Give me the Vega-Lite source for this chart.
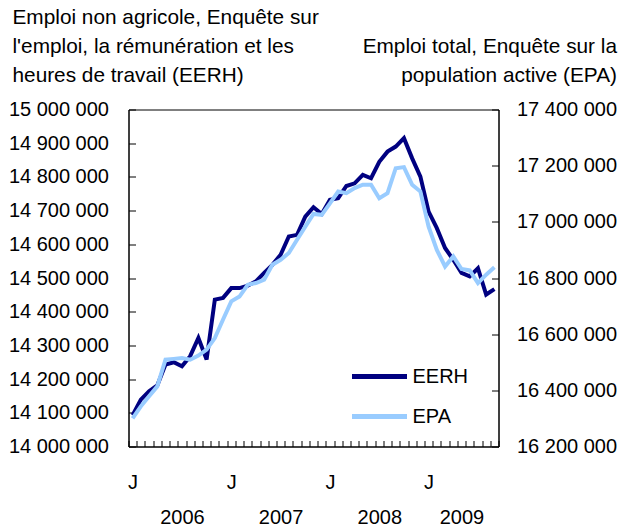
{
  "$schema": "https://vega.github.io/schema/vega-lite/v6.json",
  "width": 370,
  "height": 337,
  "autosize": {"type": "none"},
  "padding": {"left": 128.5, "top": 109.5, "right": 129.5, "bottom": 82.5},
  "config": {
    "locale": {"number": {"decimal": ",", "thousands": " ", "grouping": [3], "currency": ["", " $"]}},
    "view": {"stroke": "black", "strokeWidth": 1},
    "font": "Liberation Sans",
    "axis": {
      "labelFont": "Liberation Sans", "labelFontSize": 20, "labelColor": "black",
      "domainColor": "black", "tickColor": "black", "grid": false,
      "titleFont": "Liberation Sans", "titleFontWeight": "normal", "titleColor": "black", "titleFontSize": 20.8
    }
  },
  "data": {"values": [
    {"month": "2006-01", "eerh": 14093000, "epa": 16300000},
    {"month": "2006-02", "eerh": 14139000, "epa": 16343000},
    {"month": "2006-03", "eerh": 14164000, "epa": 16379000},
    {"month": "2006-04", "eerh": 14181000, "epa": 16414000},
    {"month": "2006-05", "eerh": 14243000, "epa": 16509000},
    {"month": "2006-06", "eerh": 14250000, "epa": 16512000},
    {"month": "2006-07", "eerh": 14238000, "epa": 16515000},
    {"month": "2006-08", "eerh": 14268000, "epa": 16509000},
    {"month": "2006-09", "eerh": 14322000, "epa": 16524000},
    {"month": "2006-10", "eerh": 14258000, "epa": 16545000},
    {"month": "2006-11", "eerh": 14436000, "epa": 16586000},
    {"month": "2006-12", "eerh": 14441000, "epa": 16652000},
    {"month": "2007-01", "eerh": 14470000, "epa": 16717000},
    {"month": "2007-02", "eerh": 14470000, "epa": 16734000},
    {"month": "2007-03", "eerh": 14477000, "epa": 16776000},
    {"month": "2007-04", "eerh": 14490000, "epa": 16782000},
    {"month": "2007-05", "eerh": 14515000, "epa": 16794000},
    {"month": "2007-06", "eerh": 14539000, "epa": 16847000},
    {"month": "2007-07", "eerh": 14569000, "epa": 16865000},
    {"month": "2007-08", "eerh": 14623000, "epa": 16889000},
    {"month": "2007-09", "eerh": 14628000, "epa": 16936000},
    {"month": "2007-10", "eerh": 14682000, "epa": 16983000},
    {"month": "2007-11", "eerh": 14710000, "epa": 17028000},
    {"month": "2007-12", "eerh": 14690000, "epa": 17025000},
    {"month": "2008-01", "eerh": 14732000, "epa": 17066000},
    {"month": "2008-02", "eerh": 14737000, "epa": 17108000},
    {"month": "2008-03", "eerh": 14773000, "epa": 17102000},
    {"month": "2008-04", "eerh": 14781000, "epa": 17120000},
    {"month": "2008-05", "eerh": 14806000, "epa": 17132000},
    {"month": "2008-06", "eerh": 14796000, "epa": 17132000},
    {"month": "2008-07", "eerh": 14845000, "epa": 17084000},
    {"month": "2008-08", "eerh": 14875000, "epa": 17102000},
    {"month": "2008-09", "eerh": 14890000, "epa": 17191000},
    {"month": "2008-10", "eerh": 14915000, "epa": 17195000},
    {"month": "2008-11", "eerh": 14855000, "epa": 17132000},
    {"month": "2008-12", "eerh": 14801000, "epa": 17108000},
    {"month": "2009-01", "eerh": 14697000, "epa": 16983000},
    {"month": "2009-02", "eerh": 14648000, "epa": 16900000},
    {"month": "2009-03", "eerh": 14589000, "epa": 16841000},
    {"month": "2009-04", "eerh": 14554000, "epa": 16877000},
    {"month": "2009-05", "eerh": 14515000, "epa": 16832000},
    {"month": "2009-06", "eerh": 14505000, "epa": 16827000},
    {"month": "2009-07", "eerh": 14529000, "epa": 16782000},
    {"month": "2009-08", "eerh": 14451000, "epa": 16812000},
    {"month": "2009-09", "eerh": 14467000, "epa": 16838000}
  ]},
  "encoding": {
    "x": {
      "field": "month", "type": "ordinal",
      "scale": {"type": "band", "paddingInner": 0, "paddingOuter": 0},
      "axis": {
        "title": null, "tickBand": "extent", "tickSize": -6, "labelPadding": 32,
        "labelAngle": 0, "labelBaseline": "top", "labelAlign": "center",
        "labelOverlap": false, "labelBound": false, "labelLineHeight": 35,
        "labelExpr": "slice(datum.value + '', 5) == '01' ? 'J' : (datum.value + '') == '2006-07' ? ['', '2006'] : (datum.value + '') == '2007-07' ? ['', '2007'] : (datum.value + '') == '2008-07' ? ['', '2008'] : (datum.value + '') == '2009-05' ? ['', '2009'] : ''"
      }
    }
  },
  "layer": [
    {
      "mark": {"type": "line", "strokeWidth": 4},
      "encoding": {
        "y": {
          "field": "eerh", "type": "quantitative",
          "scale": {"domain": [14000000, 15000000], "nice": false, "zero": false},
          "axis": {
            "orient": "left",
            "title": ["Emploi non agricole, Enquête sur", "l'emploi, la rémunération et les", "heures de travail (EERH)"],
            "titleAngle": 0, "titleAlign": "left", "titleBaseline": "top",
            "titleX": -116.5, "titleY": -102, "titleLineHeight": 29,
            "tickSize": -7, "labelPadding": 27, "format": ",d",
            "values": [14000000, 14100000, 14200000, 14300000, 14400000, 14500000, 14600000, 14700000, 14800000, 14900000, 15000000]
          }
        },
        "color": {
          "datum": "EERH", "type": "nominal",
          "scale": {"domain": ["EERH", "EPA"], "range": ["#000080", "#99CCFF"]},
          "legend": {
            "orient": "none", "legendX": 221, "legendY": 237, "title": null,
            "symbolType": "stroke", "symbolStrokeWidth": 5, "symbolSize": 3025,
            "labelFontSize": 20, "labelFont": "Liberation Sans", "labelColor": "black", "labelOffset": 3,
            "rowPadding": 0
          }
        }
      }
    },
    {
      "mark": {"type": "line", "strokeWidth": 4},
      "encoding": {
        "y": {
          "field": "epa", "type": "quantitative",
          "scale": {"domain": [16200000, 17400000], "nice": false, "zero": false},
          "axis": {
            "orient": "right",
            "title": ["Emploi total, Enquête sur la", "population active (EPA)"],
            "titleAngle": 0, "titleAlign": "right", "titleBaseline": "top",
            "titleX": 118, "titleY": -73, "titleLineHeight": 29,
            "tickSize": -7, "labelPadding": 25, "format": ",d",
            "values": [16200000, 16400000, 16600000, 16800000, 17000000, 17200000, 17400000]
          }
        },
        "color": {"datum": "EPA", "type": "nominal"}
      }
    }
  ],
  "resolve": {"scale": {"y": "independent"}}
}
